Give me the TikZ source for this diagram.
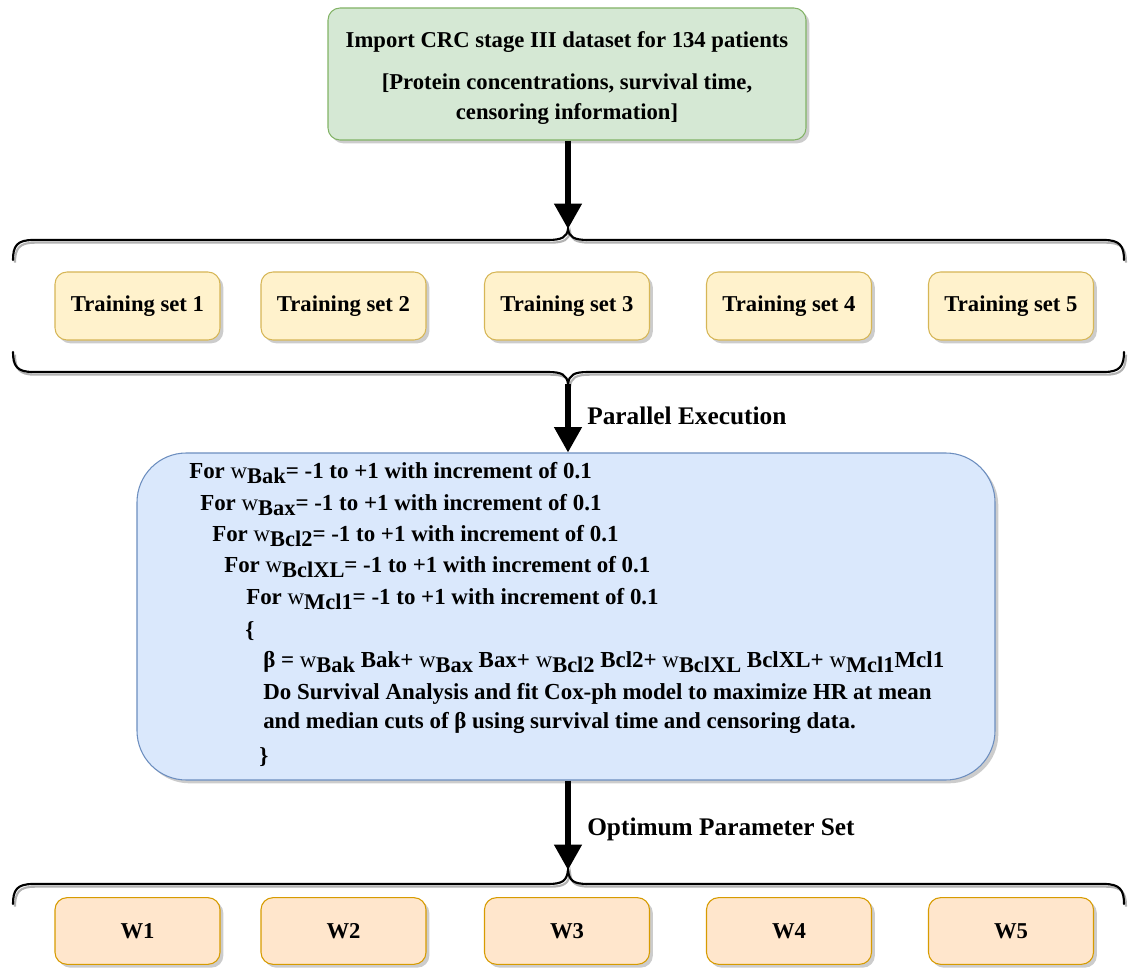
\documentclass[tikz,border=0pt]{standalone}
\usepackage{fontspec}
\setmainfont{Liberation Serif}
\usetikzlibrary{arrows.meta,shadows}
\definecolor{gfill}{HTML}{D5E8D4}
\definecolor{gline}{HTML}{82B366}
\definecolor{yfill}{HTML}{FFF2CC}
\definecolor{yline}{HTML}{D6B656}
\definecolor{ofill}{HTML}{FFE6CC}
\definecolor{oline}{HTML}{D79B00}
\definecolor{bfill}{HTML}{DAE8FC}
\definecolor{bline}{HTML}{6C8EBF}
\newcommand\wsub[1]{{\mdseries w}\raisebox{-0.5ex}{\fontsize{16.8}{17}\selectfont #1}}
\tikzset{
  shbox/.style={rounded corners=9pt, line width=0.8pt, align=center,
    drop shadow={shadow xshift=2.5pt, shadow yshift=-2.5pt, fill=black!40, opacity=0.5}},
  trainbox/.style={shbox, fill=yfill, draw=yline, minimum width=123.75pt, minimum height=51pt,
    font=\bfseries\fontsize{17}{20}\selectfont},
  wbox/.style={shbox, fill=ofill, draw=oline, minimum width=123.75pt, minimum height=50pt,
    font=\bfseries\fontsize{17}{20}\selectfont},
  bracepath/.style={line width=1.6pt, line cap=round,
    preaction={draw=black!30, line width=1.6pt, transform canvas={shift={(1.5pt,-2pt)}}}},
  bigarrow/.style={line width=4pt, -{Triangle[width=20pt,length=19pt]}},
  codeline/.style={anchor=base west, inner sep=0pt, font=\bfseries\fontsize{17.2}{20}\selectfont},
  lbl/.style={anchor=base west, inner sep=0pt, font=\bfseries\fontsize{19}{22}\selectfont}
}
\begin{document}
\begin{tikzpicture}[x=0.75pt,y=-0.75pt]
\useasboundingbox (0,0) rectangle (1129,970);

% top box
\node[shbox, fill=gfill, draw=gline, minimum width=358.5pt, minimum height=99pt,
  label={[yshift=-3pt, align=center, font=\bfseries\fontsize{17}{22.5}\selectfont]center:{Import CRC stage III dataset for 134 patients\\[9.5pt]{[}Protein concentrations, survival time,\\censoring information{]}}}]
  (import) at (567,74) {};

% braces around training sets
\coordinate (tpeak) at (568,229);
\coordinate (bpeak) at (568,384);
\draw[bracepath] (13,260) .. controls (13,246) and (17,240) .. (33,240) -- (548,240)
  .. controls (562,240) and (567,237) .. (tpeak)
  .. controls (569,237) and (574,240) .. (588,240) -- (1104,240)
  .. controls (1120,240) and (1124,246) .. (1124,260);
\draw[bracepath] (13,352) .. controls (13,366) and (17,372) .. (33,372) -- (548,372)
  .. controls (562,372) and (567,375) .. (bpeak)
  .. controls (569,375) and (574,372) .. (588,372) -- (1104,372)
  .. controls (1120,372) and (1124,366) .. (1124,352);

\node[trainbox] (t1) at (137.5,306) {Training set 1};
\node[trainbox] (t2) at (343.5,306) {Training set 2};
\node[trainbox] (t3) at (567,306) {Training set 3};
\node[trainbox] (t4) at (789,306) {Training set 4};
\node[trainbox] (t5) at (1011,306) {Training set 5};

% blue box
\node[shbox, rounded corners=37pt, fill=bfill, draw=bline, minimum width=643.5pt, minimum height=245.25pt] (loop) at (566,616.5) {};
\node[codeline] (l1) at (189,478) {For \wsub{Bak}= -1 to +1 with increment of 0.1};
\node[codeline] (l2) at (200,510) {For \wsub{Bax}= -1 to +1 with increment of 0.1};
\node[codeline] (l3) at (212,541) {For \wsub{Bcl2}= -1 to +1 with increment of 0.1};
\node[codeline] (l4) at (224,572) {For \wsub{BclXL}= -1 to +1 with increment of 0.1};
\node[codeline] (l5) at (246,604) {For \wsub{Mcl1}= -1 to +1 with increment of 0.1};
\node[codeline] (l6) at (245,637) {\{};
\node[codeline] (l7) at (263,667) {β = \wsub{Bak} Bak+ \wsub{Bax} Bax+ \wsub{Bcl2} Bcl2+ \wsub{BclXL} BclXL+ \wsub{Mcl1}Mcl1};
\node[codeline] (l8) at (263,699) {Do Survival Analysis and fit Cox-ph model to maximize HR at mean};
\node[codeline] (l9) at (263,728) {and median cuts of β using survival time and censoring data.};
\node[codeline] (l10) at (259,763) {\}};

% braces around W
\coordinate (wpeak) at (568,870);
\draw[bracepath] (13,904) .. controls (13,890) and (17,884) .. (33,884) -- (548,884)
  .. controls (562,884) and (567,881) .. (wpeak)
  .. controls (569,881) and (574,884) .. (588,884) -- (1104,884)
  .. controls (1120,884) and (1124,890) .. (1124,904);

\node[wbox] (w1) at (137.5,931) {W1};
\node[wbox] (w2) at (343.5,931) {W2};
\node[wbox] (w3) at (567,931) {W3};
\node[wbox] (w4) at (789,931) {W4};
\node[wbox] (w5) at (1011,931) {W5};

% arrows
\draw[bigarrow] (import.south -| tpeak) -- (tpeak);
\draw[bigarrow] (bpeak) -- (bpeak |- loop.north);
\draw[bigarrow] (bpeak |- loop.south) -- (wpeak);
\node[lbl] (pe) at (587,424) {Parallel Execution};
\node[lbl] (ops) at (587,835) {Optimum Parameter Set};
\end{tikzpicture}
\end{document}
